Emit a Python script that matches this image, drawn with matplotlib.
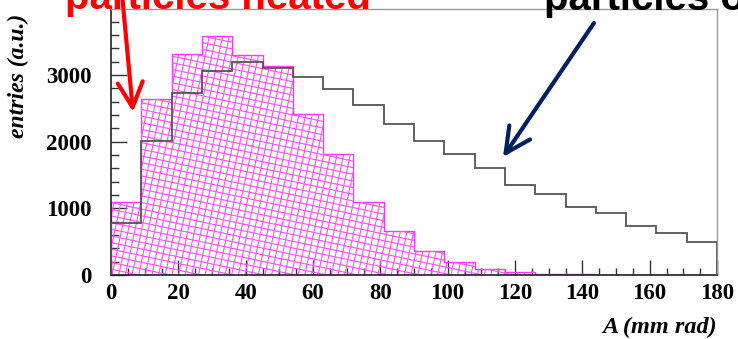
import numpy as np
import matplotlib
matplotlib.use('Agg')
import matplotlib.pyplot as plt
import matplotlib.transforms as mtransforms
from matplotlib.collections import LineCollection
from matplotlib.ticker import MultipleLocator

# histogram data, 20 bins of 9 mm rad between 0 and 180
bin_edges = np.linspace(0, 180, 21)
heated = [1100, 2640, 3320, 3590, 3300, 3130, 2420, 1820, 1090, 660,
          365, 195, 90, 50, 15, 10, 6, 4, 3, 2]
others = [785, 2010, 2730, 3060, 3190, 3100, 2965, 2785, 2550, 2265,
          2015, 1815, 1610, 1350, 1215, 1015, 925, 740, 635, 490]

x_ticks = [0, 20, 40, 60, 80, 100, 120, 140, 160, 180]
y_ticks = [0, 1000, 2000, 3000]

fig = plt.figure(figsize=(7.38, 3.39), dpi=100)
ax = fig.add_axes([111/738, 64/339, 606/738, 266/339])

# heated particles: magenta outline + tilted cross hatch clipped to the histogram
hpatch = ax.stairs(heated, bin_edges, fill=True, facecolor='none',
                   edgecolor='#ff33ff', linewidth=1.0, zorder=2)

fig.canvas.draw()
w, h = ax.bbox.width, ax.bbox.height
segs = []
step = 6.5
diag = np.hypot(w, h)
for ang in (-12, 78):
    t = np.deg2rad(ang)
    d = np.array([np.cos(t), np.sin(t)])
    n = np.array([-np.sin(t), np.cos(t)])
    for off in np.arange(-diag, diag, step):
        c = np.array([w / 2, h / 2]) + n * off
        segs.append([c - d * diag, c + d * diag])
hatch_tr = mtransforms.Affine2D().scale(1 / w, 1 / h) + ax.transAxes
lc = LineCollection(segs, colors='#ff50ff', linewidths=0.8, transform=hatch_tr, zorder=2)
ax.add_collection(lc, autolim=False)
lc.set_clip_path(hpatch)

# other particles: grey step line
ax.stairs(others, bin_edges, color='#555555', linewidth=1.3, zorder=3)

ax.set_xlim(0, 180)
ax.set_ylim(0, 3990)
ax.set_xticks(x_ticks)
ax.set_yticks(y_ticks)
ax.xaxis.set_minor_locator(MultipleLocator(5))
ax.yaxis.set_minor_locator(MultipleLocator(200))
ax.tick_params(which='both', direction='in', top=False, right=False, color='#333333')
ax.tick_params(axis='x', which='major', length=11, width=1, pad=6)
ax.tick_params(axis='x', which='minor', length=5, width=1)
ax.tick_params(axis='y', which='major', length=11.5, width=1, pad=14)
ax.tick_params(axis='y', which='minor', length=6, width=1)
for lab in ax.get_xticklabels() + ax.get_yticklabels():
    lab.set_fontfamily('Liberation Serif')
    lab.set_fontweight('bold')
    lab.set_fontsize(16.5)

for s in ['left', 'bottom']:
    ax.spines[s].set_color('#222222')
    ax.spines[s].set_linewidth(1.2)
for s in ['top', 'right']:
    ax.spines[s].set_color('#999999')
    ax.spines[s].set_linewidth(1.0)

ax.set_xlabel('A (mm rad)', family='Liberation Serif', style='italic', weight='bold',
              fontsize=17.5, loc='right', labelpad=9)
fig.text(18, 339 - 76, 'entries (a.u.)', transform=None, rotation=90,
         family='Liberation Serif', style='italic', weight='bold', fontsize=17,
         ha='center', va='center')

# annotations at the top, partly cut off by the figure edge
fig.text(65, 330, 'particles heated', transform=None, color='#ff0000',
         family='Liberation Sans', weight='bold', fontsize=29, va='baseline')
fig.text(544, 329, 'particles outside', transform=None, color='black',
         family='Liberation Sans', weight='bold', fontsize=29, va='baseline')

ax.annotate('', xy=(133, 339 - 112), xycoords='figure pixels',
            xytext=(122, 345), textcoords='figure pixels',
            arrowprops=dict(arrowstyle='->,head_length=0.9,head_width=0.45',
                            color='#ff0000', lw=3, mutation_scale=20,
                            shrinkA=0, shrinkB=0), annotation_clip=False)
ax.annotate('', xy=(503, 339 - 157), xycoords='figure pixels',
            xytext=(594, 339 - 23), textcoords='figure pixels',
            arrowprops=dict(arrowstyle='->,head_length=0.9,head_width=0.45',
                            color='#002060', lw=3, mutation_scale=20,
                            shrinkA=0, shrinkB=0), annotation_clip=False)

fig.savefig('out.png', dpi=100)
